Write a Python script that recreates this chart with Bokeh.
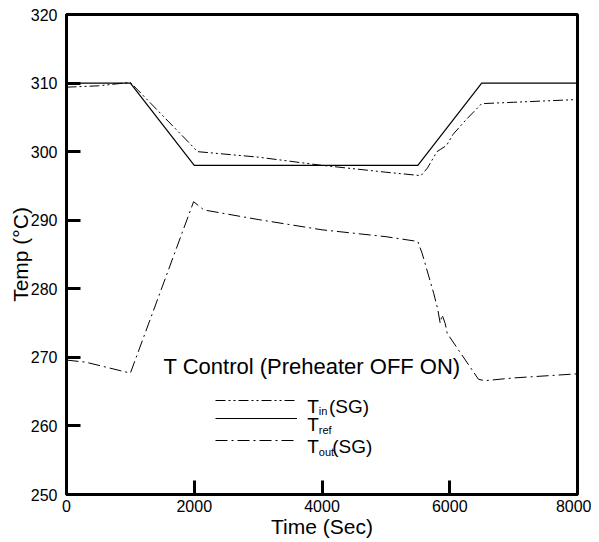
from bokeh.plotting import figure
from bokeh.models import Range1d, FixedTicker, Label, Legend, LegendItem
from bokeh.core.properties import value
from bokeh.embed import file_html
from bokeh.resources import INLINE

# ---- data ----
time_ref = [0, 1000, 2000, 5500, 6500, 8000]
temp_ref = [310.0, 310.0, 298.0, 298.0, 310.0, 310.0]

time_in = [0, 500, 1000, 1950, 2050, 3000, 4000, 5000, 5550, 5650, 5800, 5850,
           5950, 6050, 6250, 6500, 7000, 8000]
temp_in = [309.4, 309.6, 310.1, 301.0, 300.0, 299.2, 298.0, 297.0, 296.5, 297.6,
           300.0, 300.3, 300.9, 302.5, 304.6, 307.0, 307.2, 307.6]

time_out = [0, 300, 1000, 1990, 2150, 3000, 4000, 5000, 5500, 5570, 5750, 5810,
            5850, 5880, 5930, 5960, 6450, 6550, 7000, 8000]
temp_out = [269.6, 269.3, 267.7, 292.7, 291.5, 290.1, 288.6, 287.6, 286.9, 285.1,
            279.3, 277.1, 275.0, 276.2, 274.9, 273.5, 266.8, 266.6, 267.0, 267.6]

x_ticks = [0, 2000, 4000, 6000, 8000]
y_ticks = [250, 260, 270, 280, 290, 300, 310, 320]

FONT = "Liberation Sans"

p = figure(width=591, height=540, x_range=Range1d(0, 8000), y_range=Range1d(250, 320),
           output_backend="svg", toolbar_location=None,
           min_border_left=66, min_border_right=14, min_border_top=14, min_border_bottom=46)

p.xgrid.visible = False
p.ygrid.visible = False
p.outline_line_color = "black"
p.outline_line_width = 3
p.outline_line_alpha = 1.0
p.background_fill_color = "white"
p.border_fill_color = "white"

for ax in (p.xaxis[0], p.yaxis[0]):
    ax.axis_line_width = 3
    ax.major_tick_line_width = 3
    ax.major_tick_in = 14
    ax.major_tick_out = 0
    ax.minor_tick_line_color = None
    ax.major_label_text_font = FONT
    ax.major_label_text_font_size = "16px"
    ax.major_label_text_color = "black"
    ax.axis_label_text_font = FONT
    ax.axis_label_text_font_size = "21px"
    ax.axis_label_text_font_style = "normal"
    ax.axis_label_text_color = "black"

p.xaxis.ticker = FixedTicker(ticks=x_ticks)
p.yaxis.ticker = FixedTicker(ticks=y_ticks)
p.xaxis.axis_label = "Time (Sec)"
p.yaxis.axis_label = "Temp (°C)"
p.xaxis.major_label_standoff = 5
p.xaxis.axis_label_standoff = 0
p.yaxis.major_label_standoff = 9
p.yaxis.axis_label_standoff = -4

r_in = p.line(time_in, temp_in, line_color="black", line_width=1, line_dash="10 3 2 3 2 3")
r_ref = p.line(time_ref, temp_ref, line_color="black", line_width=1.2)
r_out = p.line(time_out, temp_out, line_color="black", line_width=1, line_dash="12 4 2 4")

for r, vy in ((r_in, 89), (r_ref, 71), (r_out, 49)):
    lg = Legend(items=[LegendItem(label=value(" "), renderers=[r])], location=(149, vy),
                glyph_width=82, glyph_height=10, label_height=10, label_width=0,
                label_standoff=0, label_text_font_size="1px", padding=0, margin=0,
                spacing=0, border_line_color=None, background_fill_alpha=0)
    p.add_layout(lg)

def lab(x, y, text, size):
    p.add_layout(Label(x=x, y=y, text=text, text_font=FONT, text_font_size=size,
                       text_color="black", text_baseline="alphabetic", text_align="left"))

lab(1519, 268.67, "T Control (Preheater OFF ON)", "22px")
lab(3768, 262.88, "T", "19px")
lab(3950, 262.15, "in", "11px")
lab(4110, 262.88, "(SG)", "19px")
lab(3768, 260.21, "T", "19px")
lab(3950, 259.44, "ref", "11px")
lab(3768, 257.0, "T", "19px")
lab(3950, 256.27, "out", "11px")
lab(4160, 257.0, "(SG)", "19px")

open("out.html", "w").write(file_html(p, INLINE))
